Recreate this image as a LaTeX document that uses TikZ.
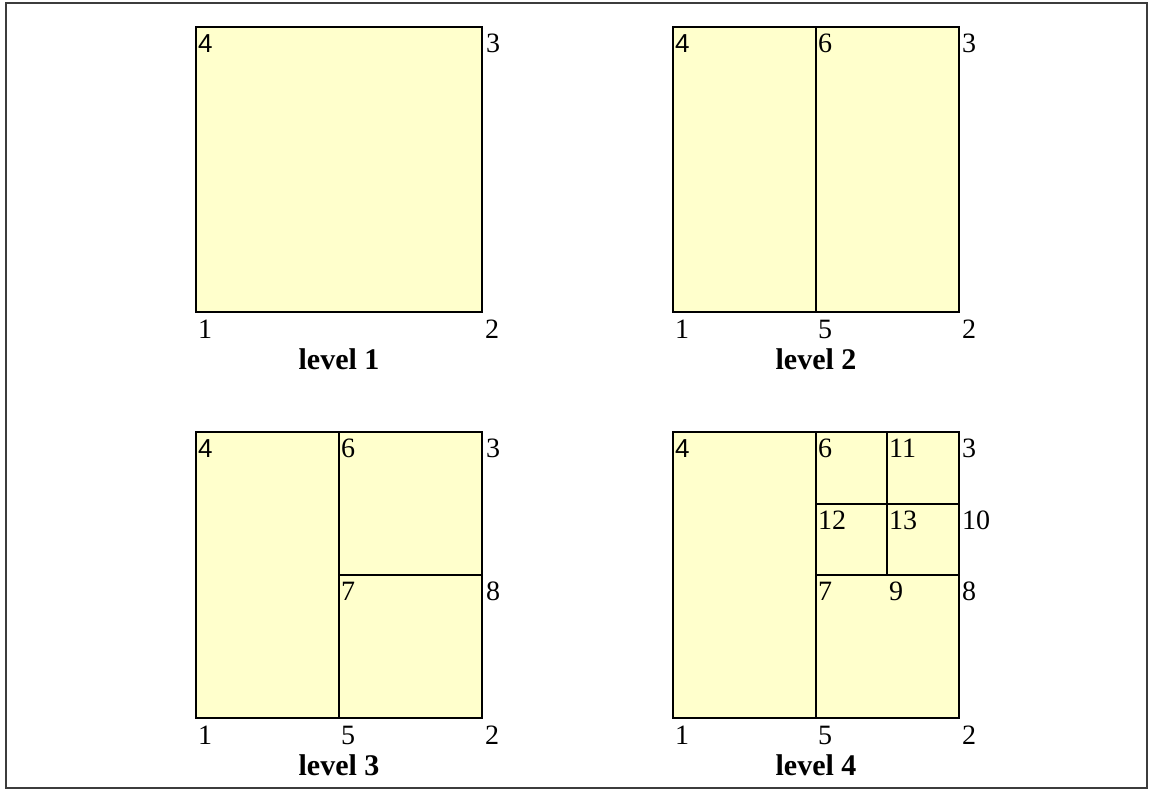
\documentclass[tikz,border=0pt]{standalone}
\usepackage{fontspec}
\setmainfont{Liberation Serif}
\newfontfamily\sanslab{Liberation Sans}
\definecolor{boxfill}{RGB}{255,255,204}
\definecolor{framegray}{RGB}{60,60,60}
\begin{document}
\begin{tikzpicture}[x=1pt,y=-1pt,
  cell/.style={draw=black, line width=1.6pt, fill=boxfill},
  split/.style={draw=black, line width=1.6pt},
  lab/.style={anchor=base west, inner sep=0pt, font=\fontsize{28}{28}\selectfont},
  slab/.style={anchor=base west, inner sep=0pt, font=\fontsize{26}{26}\selectfont\sanslab},
  levcap/.style={anchor=base, inner sep=0pt, font=\fontsize{30}{30}\selectfont\bfseries}]
\useasboundingbox (0,0) rectangle (1149,790);
\draw[line width=2pt, draw=framegray] (6,3) rectangle (1147,788);

% level 1
\draw[cell] (196,27) rectangle (482,312);
\node[slab] (a4) at (198,52) {4};
\node[lab] (a3) at (486,52) {3};
\node[lab] (a1) at (198,338) {1};
\node[lab] (a2) at (485,338) {2};
\node[levcap] (acap) at (339,369) {level 1};

% level 2
\draw[cell] (673,27) rectangle (959,312);
\draw[split] (816,27) -- (816,312);
\node[slab] (b4) at (675,52) {4};
\node[lab] (b6) at (818,52) {6};
\node[lab] (b3) at (962,52) {3};
\node[lab] (b1) at (675,338) {1};
\node[lab] (b5) at (818,338) {5};
\node[lab] (b2) at (962,338) {2};
\node[levcap] (bcap) at (816,369) {level 2};

% level 3
\draw[cell] (196,432) rectangle (482,718);
\draw[split] (339,432) -- (339,718);
\draw[split] (339,575) -- (482,575);
\node[slab] (c4) at (198,457) {4};
\node[lab] (c6) at (341,457) {6};
\node[lab] (c3) at (486,457) {3};
\node[lab] (c7) at (341,600) {7};
\node[lab] (c8) at (486,600) {8};
\node[lab] (c1) at (198,744) {1};
\node[lab] (c5) at (341,744) {5};
\node[lab] (c2) at (485,744) {2};
\node[levcap] (ccap) at (339,775) {level 3};

% level 4
\draw[cell] (673,432) rectangle (959,718);
\draw[split] (816,432) -- (816,718);
\draw[split] (816,575) -- (959,575);
\draw[split] (816,504) -- (959,504);
\draw[split] (887,432) -- (887,575);
\node[slab] (d4) at (675,457) {4};
\node[lab] (d6) at (818,457) {6};
\node[lab] (d11) at (889,457) {11};
\node[lab] (d3) at (962,457) {3};
\node[lab] (d12) at (818,529) {12};
\node[lab] (d13) at (889,529) {13};
\node[lab] (d10) at (962,529) {10};
\node[lab] (d7) at (818,600) {7};
\node[lab] (d9) at (889,600) {9};
\node[lab] (d8) at (962,600) {8};
\node[lab] (d1) at (675,744) {1};
\node[lab] (d5) at (818,744) {5};
\node[lab] (d2) at (962,744) {2};
\node[levcap] (dcap) at (816,775) {level 4};
\end{tikzpicture}
\end{document}
